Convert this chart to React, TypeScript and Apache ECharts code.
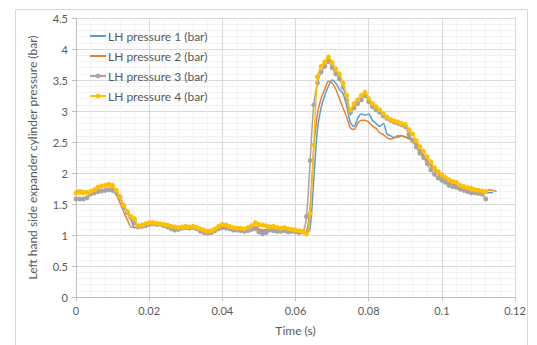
import React, { useEffect, useRef } from "react";
import * as echarts from "echarts";

// Sampling interval of the logged pressures (s)
const TIME_STEP = 0.001;

const X_TICKS = [0, 0.02, 0.04, 0.06, 0.08, 0.1, 0.12];
const Y_TICKS = [0, 0.5, 1, 1.5, 2, 2.5, 3, 3.5, 4, 4.5];

const SERIES_NAMES = [
  "LH pressure 1 (bar)",
  "LH pressure 2 (bar)",
  "LH pressure 3 (bar)",
  "LH pressure 4 (bar)",
];

const lhPressure1 = [
  1.68, 1.70, 1.68, 1.68, 1.69, 1.70, 1.72, 1.73, 1.73, 1.74,
  1.72, 1.68, 1.60, 1.48, 1.38, 1.25, 1.12, 1.13, 1.16, 1.18,
  1.20, 1.20, 1.18, 1.17, 1.17, 1.15, 1.12, 1.10, 1.10, 1.12,
  1.13, 1.12, 1.13, 1.10, 1.07, 1.05, 1.04, 1.05, 1.08, 1.12,
  1.14, 1.13, 1.12, 1.10, 1.10, 1.09, 1.08, 1.09, 1.11, 1.13,
  1.08, 1.06, 1.08, 1.10, 1.09, 1.08, 1.07, 1.08, 1.06, 1.05,
  1.04, 1.04, 1.03, 1.02, 1.12, 1.90, 2.70, 3.05, 3.25, 3.40,
  3.50, 3.45, 3.35, 3.28, 3.08, 2.82, 2.75, 2.88, 2.95, 2.93,
  2.95, 2.85, 2.80, 2.75, 2.80, 2.63, 2.60, 2.57, 2.58, 2.60,
  2.58, 2.57, 2.55, 2.48, 2.38, 2.28, 2.20, 2.13, 2.05, 2.00,
  1.95, 1.90, 1.86, 1.83, 1.80, 1.78, 1.75, 1.74, 1.72, 1.71,
  1.70, 1.69, 1.68, 1.68, 1.69,
];

const lhPressure2 = [
  1.70, 1.72, 1.71, 1.69, 1.70, 1.74, 1.77, 1.78, 1.79, 1.80,
  1.76, 1.66, 1.52, 1.38, 1.25, 1.13, 1.12, 1.14, 1.17, 1.19,
  1.20, 1.19, 1.18, 1.17, 1.16, 1.14, 1.12, 1.11, 1.10, 1.12,
  1.13, 1.12, 1.12, 1.10, 1.08, 1.05, 1.04, 1.06, 1.09, 1.12,
  1.15, 1.13, 1.12, 1.11, 1.10, 1.09, 1.07, 1.08, 1.10, 1.14,
  1.10, 1.08, 1.09, 1.10, 1.09, 1.08, 1.08, 1.07, 1.07, 1.06,
  1.05, 1.04, 1.03, 1.05, 1.45, 2.40, 2.95, 3.20, 3.35, 3.48,
  3.45, 3.35, 3.20, 3.05, 2.90, 2.73, 2.70, 2.80, 2.85, 2.85,
  2.82, 2.76, 2.72, 2.65, 2.62, 2.57, 2.55, 2.57, 2.60, 2.60,
  2.58, 2.55, 2.52, 2.46, 2.37, 2.28, 2.20, 2.12, 2.05, 1.98,
  1.93, 1.90, 1.85, 1.82, 1.80, 1.76, 1.74, 1.75, 1.78, 1.72,
  1.70, 1.71, 1.70, 1.73, 1.72, 1.70,
];

const lhPressure3 = [
  1.58, 1.58, 1.58, 1.60, 1.66, 1.68, 1.70, 1.71, 1.72, 1.73,
  1.72, 1.68, 1.60, 1.45, 1.36, 1.28, 1.20, 1.13, 1.14, 1.15,
  1.17, 1.18, 1.17, 1.17, 1.15, 1.13, 1.10, 1.08, 1.09, 1.11,
  1.12, 1.11, 1.12, 1.10, 1.06, 1.04, 1.03, 1.04, 1.07, 1.10,
  1.12, 1.11, 1.10, 1.08, 1.08, 1.07, 1.06, 1.07, 1.09, 1.10,
  1.05, 1.02, 1.04, 1.08, 1.07, 1.06, 1.06, 1.07, 1.05, 1.06,
  1.05, 1.04, 1.05, 1.30, 2.20, 3.10, 3.45, 3.63, 3.72, 3.80,
  3.70, 3.60, 3.52, 3.38, 3.18, 2.97, 3.05, 3.12, 3.18, 3.25,
  3.15, 3.07, 3.02, 2.98, 2.92, 2.88, 2.85, 2.82, 2.80, 2.78,
  2.75, 2.62, 2.52, 2.42, 2.32, 2.25, 2.15, 2.05, 1.98, 1.92,
  1.88, 1.85, 1.80, 1.78, 1.77, 1.74, 1.72, 1.70, 1.68, 1.68,
  1.67, 1.66, 1.58,
];

const lhPressure4 = [
  1.68, 1.69, 1.68, 1.69, 1.70, 1.73, 1.77, 1.79, 1.80, 1.82,
  1.80, 1.72, 1.62, 1.48, 1.38, 1.30, 1.26, 1.15, 1.16, 1.18,
  1.20, 1.20, 1.19, 1.18, 1.17, 1.16, 1.14, 1.13, 1.12, 1.13,
  1.14, 1.13, 1.14, 1.12, 1.10, 1.08, 1.06, 1.07, 1.10, 1.14,
  1.17, 1.16, 1.14, 1.12, 1.11, 1.11, 1.10, 1.12, 1.15, 1.20,
  1.17, 1.16, 1.15, 1.13, 1.14, 1.12, 1.11, 1.12, 1.10, 1.09,
  1.08, 1.07, 1.05, 1.02, 1.35, 2.45, 3.55, 3.72, 3.79, 3.87,
  3.78, 3.68, 3.60, 3.45, 3.25, 3.02, 3.12, 3.18, 3.25, 3.30,
  3.20, 3.12, 3.07, 3.02, 2.96, 2.90, 2.86, 2.84, 2.82, 2.80,
  2.78, 2.70, 2.63, 2.52, 2.42, 2.35, 2.26, 2.18, 2.08, 2.02,
  1.97, 1.93, 1.89, 1.86, 1.85, 1.80, 1.78, 1.76, 1.74, 1.73,
  1.72, 1.71, 1.70,
];

const COLORS = ["#5B9BD5", "#ED7D31", "#A5A5A5", "#FFC000"];
const TEXT_COLOR = "#595959";
const FONT = "Lato, 'Open Sans', sans-serif";

const toPairs = (values: number[]) =>
  values.map((v, i) => [Number((i * TIME_STEP).toFixed(3)), v]);

const fmt = (v: number) => String(parseFloat(v.toFixed(2)));

export default function App() {
  const ref = useRef<HTMLDivElement>(null);

  useEffect(() => {
    if (!ref.current) return;
    const chart = echarts.init(ref.current, undefined, { renderer: "svg" });

    const allSeries = [lhPressure1, lhPressure2, lhPressure3, lhPressure4];

    chart.setOption({
      animation: false,
      backgroundColor: "#ffffff",
      color: COLORS,
      textStyle: { fontFamily: FONT },
      graphic: [
        {
          type: "rect",
          left: 13,
          top: 7,
          shape: { x: 0, y: 0, width: 512, height: 345 },
          style: { fill: "none", stroke: "#d9d9d9", lineWidth: 1 },
          z: -10,
          silent: true,
        },
      ],
      grid: { left: 76, right: 22, top: 18, bottom: 48, containLabel: false },
      legend: {
        orient: "vertical",
        left: 84,
        top: 25,
        itemWidth: 16,
        itemHeight: 6,
        itemGap: 8,
        textStyle: { color: TEXT_COLOR, fontSize: 12, fontFamily: FONT, padding: [0, 0, 0, -3] },
        // the plain-line series show only their line in the key
        data: SERIES_NAMES.map((name, i) =>
          i < 2
            ? { name, itemStyle: { color: "rgba(0,0,0,0)", borderWidth: 0 } }
            : { name }
        ),
      },
      xAxis: {
        type: "value",
        min: X_TICKS[0],
        max: X_TICKS[X_TICKS.length - 1],
        interval: X_TICKS[1] - X_TICKS[0],
        name: "Time (s)",
        nameLocation: "middle",
        nameGap: 27,
        nameTextStyle: { color: TEXT_COLOR, fontSize: 12, fontFamily: FONT },
        axisLine: { show: true, lineStyle: { color: "#bfbfbf" } },
        axisTick: { show: true, length: 4, lineStyle: { color: "#bfbfbf" } },
        axisLabel: { color: TEXT_COLOR, fontSize: 11, margin: 8, formatter: fmt },
        splitLine: { show: true, lineStyle: { color: "#d9d9d9" } },
        minorTick: { show: false, splitNumber: 5 },
        minorSplitLine: { show: true, lineStyle: { color: "#f2f2f2" } },
      },
      yAxis: {
        type: "value",
        min: Y_TICKS[0],
        max: Y_TICKS[Y_TICKS.length - 1],
        interval: Y_TICKS[1] - Y_TICKS[0],
        name: "Left hand side expander cylinder pressure (bar)",
        nameLocation: "middle",
        nameGap: 38,
        nameTextStyle: { color: TEXT_COLOR, fontSize: 12, fontFamily: FONT },
        axisLine: { show: true, lineStyle: { color: "#bfbfbf" } },
        axisTick: { show: true, length: 4, lineStyle: { color: "#bfbfbf" } },
        axisLabel: { color: TEXT_COLOR, fontSize: 11, margin: 8, formatter: fmt },
        splitLine: { show: true, lineStyle: { color: "#d9d9d9" } },
        minorTick: { show: false, splitNumber: 5 },
        minorSplitLine: { show: true, lineStyle: { color: "#f2f2f2" } },
      },
      series: allSeries.map((values, i) => {
        const marked = i >= 2;
        return {
          name: SERIES_NAMES[i],
          type: "line",
          data: toPairs(values),
          smooth: 0.3,
          showSymbol: marked,
          symbol: marked ? "circle" : "none",
          symbolSize: 5,
          itemStyle: { color: COLORS[i] },
          lineStyle: { color: COLORS[i], width: 1.5 },
          z: 2 + i,
        };
      }),
    });

    return () => chart.dispose();
  }, []);

  return (
    <div
      ref={ref}
      style={{ position: "fixed", left: 0, top: 0, width: 537, height: 345 }}
    />
  );
}
